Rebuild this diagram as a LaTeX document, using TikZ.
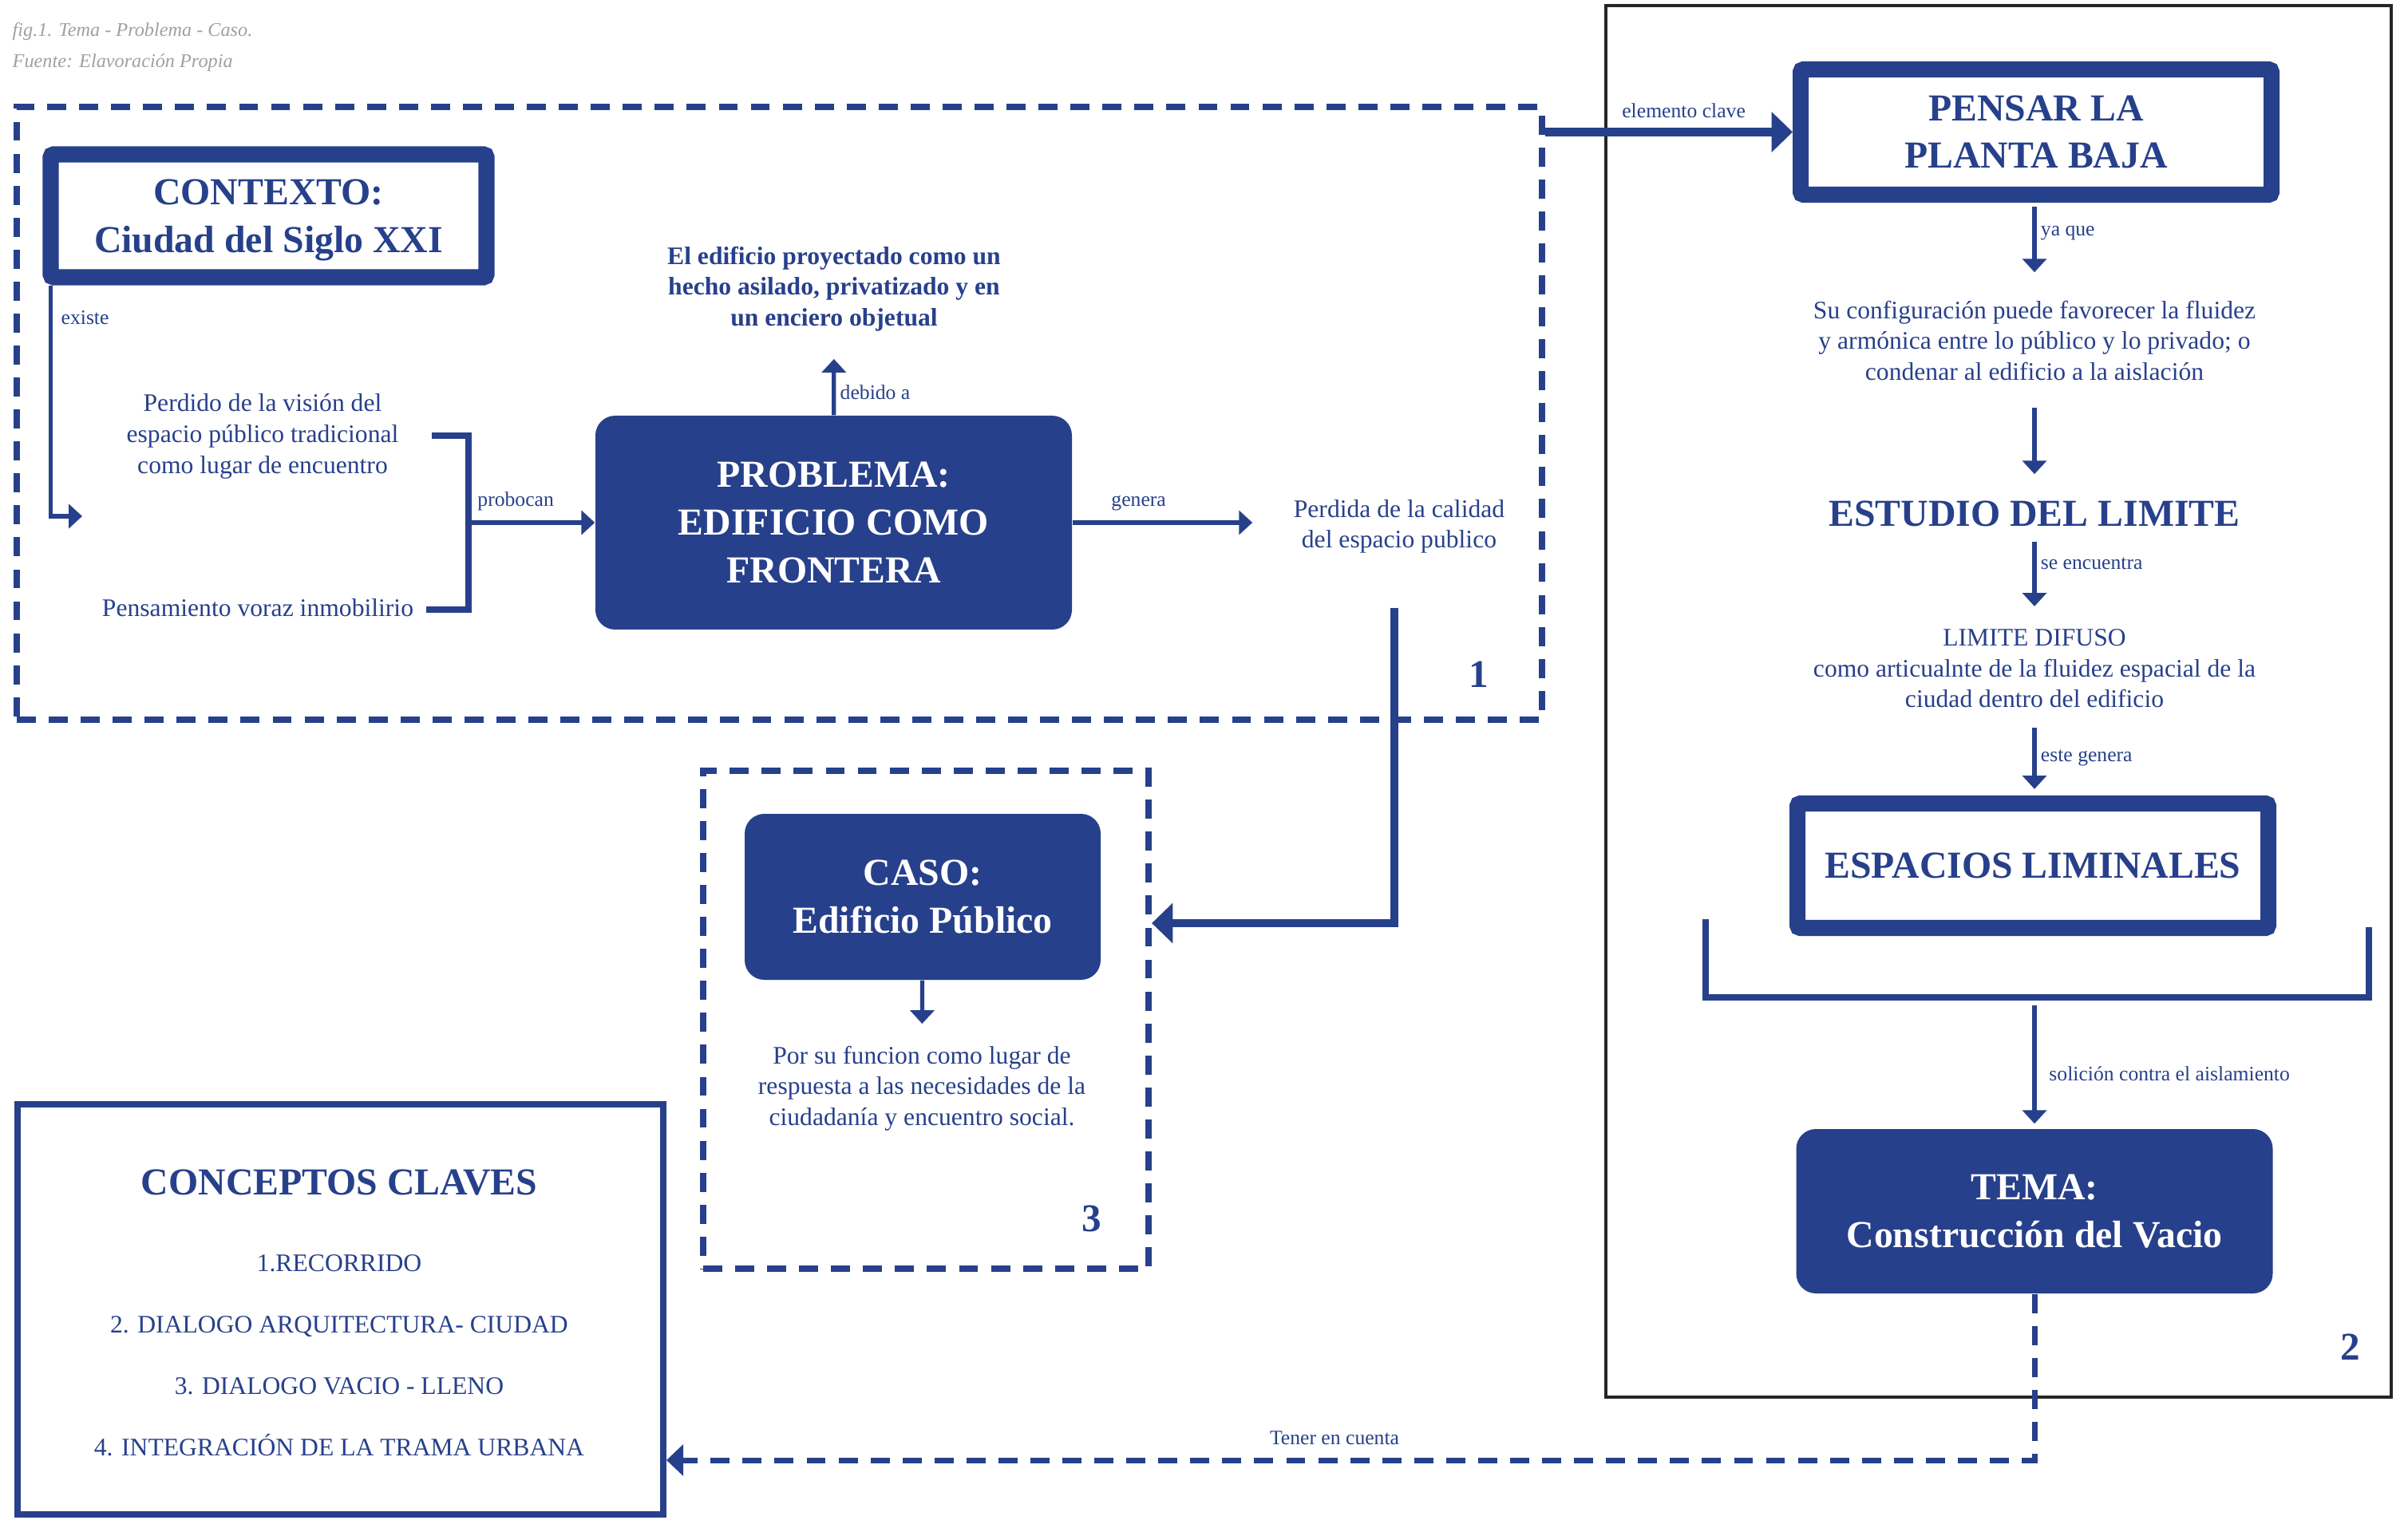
\documentclass[tikz,border=0pt]{standalone}
\usepackage{fontspec}
\setmainfont{Liberation Serif}
\usetikzlibrary{arrows.meta,positioning,calc}
\definecolor{azul}{RGB}{39,64,139}
\definecolor{gris}{RGB}{160,160,160}

\begin{document}
\begin{tikzpicture}[
    txt/.style={text=azul, align=center, inner sep=0pt, font=\fontsize{9}{11}\selectfont},
    txtb/.style={txt, font=\fontsize{9}{11}\selectfont\bfseries},
    titulo/.style={text=azul, align=center, inner sep=0pt, font=\fontsize{13.6}{17}\selectfont\bfseries},
    lbl/.style={text=azul, inner sep=1.5pt, font=\fontsize{7.3}{9}\selectfont},
    nota/.style={anchor=west, text=gris, inner sep=0pt, font=\fontsize{6.9}{8}\selectfont\itshape},
    marco/.style={draw=azul, line width=5.7pt, rounded corners=1pt, text=azul, align=center, font=\fontsize{13.6}{17}\selectfont\bfseries},
    bloque/.style={fill=azul, rounded corners=7pt, text=white, align=center, font=\fontsize{13.6}{17}\selectfont\bfseries},
    zona/.style={draw=azul, line width=2.3pt, dash pattern=on 6.8pt off 4.6pt, inner sep=0pt},
    num/.style={text=azul, font=\fontsize{14}{17}\selectfont\bfseries},
    conn/.style={draw=azul, line width=1.5pt, -{Triangle[length=4.8pt,width=8.5pt]}},
    gruesa/.style={draw=azul, line width=3pt, -{Triangle[length=7.5pt,width=14pt]}},
    punteada/.style={draw=azul, line width=2pt, dash pattern=on 6.8pt off 4.6pt, -{Triangle[length=6pt,width=11pt]}},
    llave/.style={draw=azul, line width=2.2pt}
  ]
  \useasboundingbox (0,0) rectangle (30.17,19.04);

  % caption
  \node[nota] (fig) at (0.15,18.64) {fig.1. Tema - Problema - Caso.};
  \node[nota] (fuente) at (0.15,18.25) {Fuente: Elavoración Propia};

  % zones
  \node[zona, minimum width=19.11cm, minimum height=7.675cm] (zona1) at (9.765,13.858) {};
  \node[zona, minimum width=5.58cm, minimum height=6.24cm] (zona3) at (11.60,6.26) {};
  \node[draw=black!85, line width=0.9pt, inner sep=0pt, minimum width=9.84cm, minimum height=17.44cm] (zona2) at (25.04,10.25) {};
  \node[draw=azul, line width=2.3pt, inner sep=0pt, minimum width=8.09cm, minimum height=5.14cm] (conc) at (4.265,2.63) {};

  % boxes
  \node[marco, text depth=0pt, minimum width=5.46cm, minimum height=1.54cm] (ctx) at (3.365,16.335) {CONTEXTO:\\Ciudad del Siglo XXI};
  \node[bloque, minimum width=5.97cm, minimum height=2.68cm] (prob) at (10.445,12.49) {PROBLEMA:\\EDIFICIO COMO\\FRONTERA};
  \node[bloque, minimum width=4.46cm, minimum height=2.08cm] (caso) at (11.56,7.80) {CASO:\\Edificio Público};
  \node[marco, minimum width=5.90cm, minimum height=1.57cm] (pensar) at (25.51,17.385) {PENSAR LA\\PLANTA BAJA};
  \node[marco, minimum width=5.90cm, minimum height=1.56cm] (liminal) at (25.47,8.19) {ESPACIOS LIMINALES};
  \node[bloque, minimum width=5.97cm, minimum height=2.06cm] (tema) at (25.49,3.86) {TEMA:\\Construcción del Vacio};

  % texts
  \node[txt] (perdido) at (3.29,13.57) {Perdido de la visión del\\espacio público tradicional\\como lugar de encuentro};
  \node[txt] (voraz) at (3.23,11.42) {Pensamiento voraz inmobilirio};
  \node[txtb] (aislado) at (10.45,15.42) {El edificio proyectado como un\\hecho asilado, privatizado y en\\un enciero objetual};
  \node[txt] (calidad) at (17.53,12.44) {Perdida de la calidad\\del espacio publico};
  \node[txt] (config) at (25.49,14.77) {Su configuración puede favorecer la fluidez\\y armónica entre lo público y lo privado; o\\condenar al edificio a la aislación};
  \node[titulo] (estudio) at (25.49,12.60) {ESTUDIO DEL LIMITE};
  \node[txt] (difuso) at (25.49,10.66) {LIMITE DIFUSO\\como articualnte de la fluidez espacial de la\\ciudad dentro del edificio};
  \node[txt] (funcion) at (11.55,5.40) {Por su funcion como lugar de\\respuesta a las necesidades de la\\ciudadanía y encuentro social.};

  % key concepts
  \node[titulo, anchor=base] (claves) at (4.25,4.07) {CONCEPTOS CLAVES};
  \foreach \concepto [count=\i] in {1.RECORRIDO, 2. DIALOGO ARQUITECTURA- CIUDAD, 3. DIALOGO VACIO - LLENO, 4. INTEGRACIÓN DE LA TRAMA URBANA}
    \node[txt, anchor=base] (c\i) at (4.25,{3.11-0.77*(\i-1)}) {\concepto};

  % numbers
  \node[num] (n1) at (18.53,10.59) {1};
  \node[num] (n2) at (29.45,2.16) {2};
  \node[num] (n3) at (13.68,3.77) {3};

  % left part
  \coordinate (e1) at (1.03,12.57);
  \draw[conn] ([xshift=1mm]ctx.south west) |- node[lbl, right, pos=0.07, xshift=1.5pt] {existe} (e1);
  \draw[llave] (5.41,13.58) -| (5.87,11.40) -- (5.34,11.40);
  \coordinate (brk1) at (5.87,12.49);
  \draw[conn] (brk1) -- node[lbl, above=2pt, xshift=-2mm] {probocan} (prob);
  \draw[conn, shorten >=9.7pt] (prob) -- node[lbl, right, pos=0.27] {debido a} (aislado);
  \draw[conn, shorten >=14.5pt] (prob.east) -- node[lbl, above=2pt, pos=0.3] {genera} (prob.east -| calidad.west);

  % to the case
  \coordinate (k1) at (17.47,11.42);
  \coordinate (k2) at (17.47,7.47);
  \draw[gruesa] (k1) -- (k2) -- (k2 -| zona3.east);
  \draw[conn, shorten >=7.7pt] (caso) -- (funcion);

  % right column
  \draw[gruesa] (pensar -| zona1.east) -- node[lbl, above=2pt, pos=0.56] {elemento clave} (pensar);
  \draw[conn, shorten <=1.4pt, shorten >=10pt] (config |- pensar.south) -- node[lbl, right, pos=0.31] {ya que} (config);
  \draw[conn, shorten <=9.4pt, shorten >=9.4pt] (config) -- (estudio);
  \draw[conn, shorten <=5.1pt, shorten >=8pt] (estudio) -- node[lbl, right, pos=0.36] {se encuentra} (difuso);
  \draw[conn, shorten <=6.8pt, shorten >=2.3pt] (difuso) -- node[lbl, right, pos=0.57] {este genera} (difuso |- liminal.north);
  \draw[llave] (21.37,7.52) |- (29.68,6.54) -- (29.68,7.42);
  \coordinate (brk2) at (25.49,6.54);
  \draw[conn, shorten <=2.8pt, shorten >=1.7pt] (brk2) -- node[lbl, right, pos=0.58, xshift=3pt] {solición contra el aislamiento} (tema);

  % back to the key concepts
  \coordinate (t1) at (25.49,0.74);
  \draw[punteada] (tema) -- (t1) -- node[lbl, above=3pt, xshift=-2mm] {Tener en cuenta} (t1 -| conc.east);
\end{tikzpicture}
\end{document}
